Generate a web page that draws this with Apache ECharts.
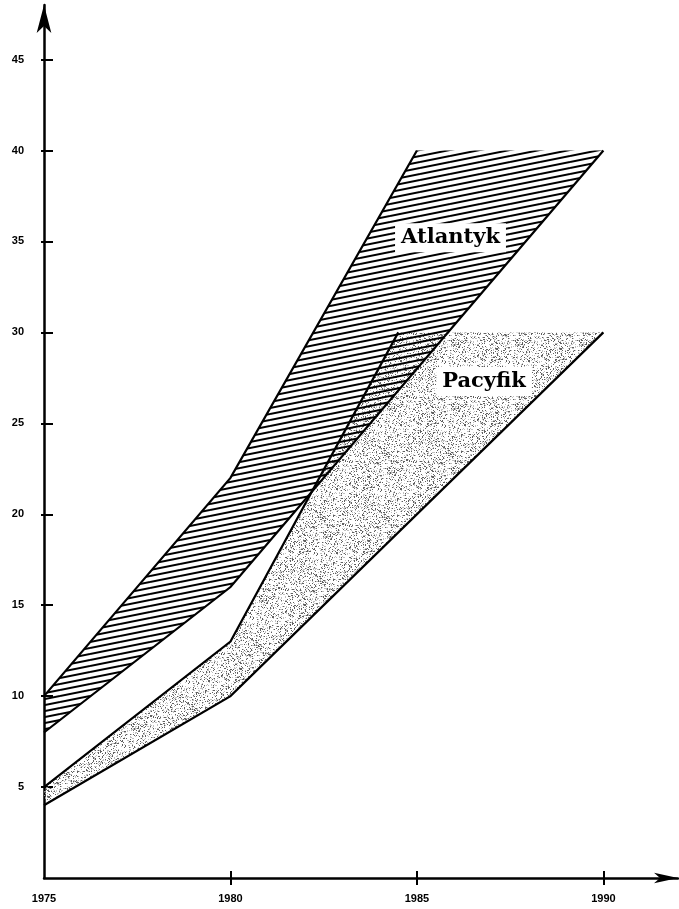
<!DOCTYPE html>
<html><head><meta charset="utf-8">
<script src="https://cdn.jsdelivr.net/npm/echarts@6/dist/echarts.min.js"></script>
<style>html,body{margin:0;padding:0;background:#fff}#c{width:679px;height:909px}</style>
</head><body><div id="c"></div>
<script>
// ---- data ----
const xLabels = [1975, 1980, 1985, 1990];
const xTickMarks = [1980, 1985, 1990];
const yLabels = [5, 10, 15, 20, 25, 30, 35, 40, 45];
const atlantykUpper = [[1975, 10], [1980, 22], [1985, 40], [1990, 40]];
const atlantykLower = [[1975, 8], [1980, 16], [1990, 40]];
const pacyfikUpper = [[1975, 5], [1980, 13], [1984.5, 30], [1990, 30]];
const pacyfikLower = [[1975, 4], [1980, 10], [1990, 30]];
const labelNames = ['Atlantyk', 'Pacyfik'];
const labelPos = [[1985.9, 35.2], [1986.8, 27.3]];

// ---- textures ----
function hatchPattern() {
  const W = 30, H = 6;
  const c = document.createElement('canvas'); c.width = W; c.height = H;
  const g = c.getContext('2d');
  g.strokeStyle = '#000'; g.lineWidth = 2;
  for (let k = -1; k <= 1; k++) {
    g.beginPath(); g.moveTo(0, H * k + H); g.lineTo(W, H * k); g.stroke();
  }
  return c;
}
function stipplePattern() {
  const N = 64;
  const c = document.createElement('canvas'); c.width = N; c.height = N;
  const g = c.getContext('2d');
  const img = g.createImageData(N, N);
  for (let j = 0; j < N; j++) for (let i = 0; i < N; i++) {
    const s = Math.sin(i * 12.9898 + j * 78.233) * 43758.5453;
    const f = s - Math.floor(s);
    const o = (j * N + i) * 4;
    if (f < 0.14) { img.data[o] = 70; img.data[o+1] = 70; img.data[o+2] = 70; img.data[o+3] = 220; }
    else if (f < 0.30) { img.data[o] = 175; img.data[o+1] = 175; img.data[o+2] = 175; img.data[o+3] = 200; }
  }
  g.putImageData(img, 0, 0);
  return c;
}
const HATCH = hatchPattern();
const STIPPLE = stipplePattern();

function risingPart(pts) {
  const out = [pts[0]];
  for (let i = 1; i < pts.length; i++) {
    if (pts[i][1] > pts[i - 1][1]) out.push(pts[i]); else break;
  }
  return out;
}

function band(upper, lower, pattern) {
  return function (params, api) {
    const up = upper.map(p => api.coord(p));
    const lo = lower.map(p => api.coord(p));
    const poly = up.concat(lo.slice().reverse());
    const edge = risingPart(upper).map(p => api.coord(p));
    return {
      type: 'group',
      children: [
        { type: 'polygon', shape: { points: poly }, style: { fill: { image: pattern, repeat: 'repeat' }, stroke: null } },
        { type: 'polyline', shape: { points: edge }, style: { stroke: '#000', lineWidth: 2.2, fill: null } },
        { type: 'polyline', shape: { points: lo }, style: { stroke: '#000', lineWidth: 2.2, fill: null } }
      ]
    };
  };
}

const chart = echarts.init(document.getElementById('c'));
const labelFont = { color: '#000', fontWeight: 'bold', fontSize: 11, fontFamily: 'Liberation Sans' };
const plain = v => String(v);
chart.setOption({
  animation: false,
  backgroundColor: '#fff',
  grid: { left: 44, right: 1, top: 5, bottom: 31 },
  xAxis: [{
    type: 'value', min: 1975, max: 1992, interval: 5, position: 'bottom',
    axisLine: { show: true, onZero: false, lineStyle: { color: '#000', width: 2.5 }, symbol: ['none', 'arrow'], symbolSize: [8, 24], symbolOffset: [0, 0] },
    axisTick: { show: true, customValues: xTickMarks, length: 7, lineStyle: { color: '#000', width: 2 } },
    axisLabel: Object.assign({ customValues: xLabels, margin: 15, formatter: plain }, labelFont),
    splitLine: { show: false }
  }, {
    type: 'value', min: 1975, max: 1992, interval: 5, position: 'bottom',
    axisLine: { show: false, onZero: false },
    axisTick: { show: true, inside: true, customValues: xTickMarks, length: 7, lineStyle: { color: '#000', width: 2 } },
    axisLabel: { show: false }, splitLine: { show: false }
  }],
  yAxis: [{
    type: 'value', min: 0, max: 48, interval: 5, position: 'left',
    axisLine: { show: true, onZero: false, lineStyle: { color: '#000', width: 2.5 }, symbol: ['none', 'arrow'], symbolSize: [11, 28], symbolOffset: [0, 0] },
    axisTick: { show: true, inside: true, customValues: yLabels, length: 9, lineStyle: { color: '#000', width: 2 } },
    axisLabel: Object.assign({ customValues: yLabels, margin: 20, formatter: plain }, labelFont),
    splitLine: { show: false }
  }, {
    type: 'value', min: 0, max: 48, interval: 5, position: 'left',
    axisLine: { show: false, onZero: false },
    axisTick: { show: true, inside: false, customValues: yLabels, length: 3, lineStyle: { color: '#000', width: 2 } },
    axisLabel: { show: false }, splitLine: { show: false }
  }],
  series: [
    { type: 'custom', xAxisIndex: 0, yAxisIndex: 0, clip: false, z: 2, silent: true, data: [[1975, 0]], renderItem: band(pacyfikUpper, pacyfikLower, STIPPLE) },
    { type: 'custom', xAxisIndex: 0, yAxisIndex: 0, clip: false, z: 3, silent: true, data: [[1975, 0]], renderItem: band(atlantykUpper, atlantykLower, HATCH) },
    {
      type: 'custom', xAxisIndex: 0, yAxisIndex: 0, clip: false, z: 4, silent: true,
      data: labelPos.map((p, i) => [p[0], p[1], i]),
      renderItem: function (params, api) {
        const pt = api.coord([api.value(0), api.value(1)]);
        return {
          type: 'text', x: pt[0], y: pt[1],
          style: {
            text: labelNames[api.value(2)], font: 'bold 21px "DejaVu Serif"', fill: '#000',
            align: 'center', verticalAlign: 'middle', backgroundColor: '#fff', padding: [4, 6]
          }
        };
      }
    }
  ]
});
</script>
</body></html>
